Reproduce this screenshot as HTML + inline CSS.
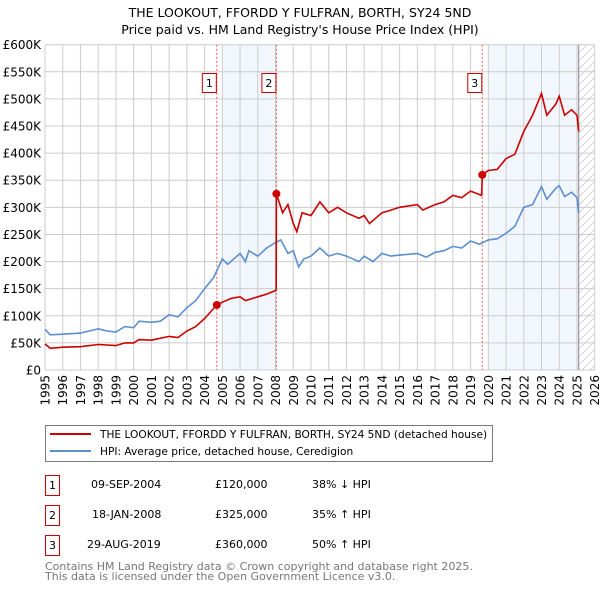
<!DOCTYPE html>
<html><head><meta charset="utf-8"><style>
body{margin:0;background:#fff;font-family:"DejaVu Sans","Liberation Sans",sans-serif;}
svg{display:block}
</style></head><body>
<svg id="c" width="600" height="590" xmlns="http://www.w3.org/2000/svg" font-family="DejaVu Sans, Liberation Sans, sans-serif">
<text x="300" y="17" text-anchor="middle" font-size="12.5">THE LOOKOUT, FFORDD Y FULFRAN, BORTH, SY24 5ND</text>
<text x="300" y="34" text-anchor="middle" font-size="12.5">Price paid vs. HM Land Registry's House Price Index (HPI)</text>
<g id="plot"></g>
<g>
<rect x="45.5" y="425.5" width="447" height="36" fill="#fff" stroke="#777"/>
<line x1="50" y1="434" x2="91" y2="434" stroke="#cc0000" stroke-width="2"/>
<text x="100" y="438" font-size="10.6">THE LOOKOUT, FFORDD Y FULFRAN, BORTH, SY24 5ND (detached house)</text>
<line x1="50" y1="451" x2="91" y2="451" stroke="#5b8fd0" stroke-width="2"/>
<text x="100" y="455" font-size="10.6">HPI: Average price, detached house, Ceredigion</text>
</g>
<g font-size="11">
<rect x="45.5" y="475.5" width="14" height="20" fill="#fff" stroke="#cc0000"/><text x="52.5" y="489" text-anchor="middle">1</text>
<text x="91" y="488">09-SEP-2004</text><text x="215" y="488">£120,000</text><text x="312" y="488">38% ↓ HPI</text>
<rect x="45.5" y="505.5" width="14" height="20" fill="#fff" stroke="#cc0000"/><text x="52.5" y="519" text-anchor="middle">2</text>
<text x="92" y="518">18-JAN-2008</text><text x="215" y="518">£325,000</text><text x="312" y="518">35% ↑ HPI</text>
<rect x="45.5" y="535.5" width="14" height="20" fill="#fff" stroke="#cc0000"/><text x="52.5" y="549" text-anchor="middle">3</text>
<text x="87" y="548">29-AUG-2019</text><text x="215" y="548">£360,000</text><text x="312" y="548">50% ↑ HPI</text>
</g>
<text x="45" y="570" font-size="11" fill="#777">Contains HM Land Registry data © Crown copyright and database right 2025.</text>
<text x="45" y="580" font-size="11" fill="#777">This data is licensed under the Open Government Licence v3.0.</text>
</svg>
<script>
const yTicks=[0,50,100,150,200,250,300,350,400,450,500,550,600];
const yTickLabels=["£0","£50K","£100K","£150K","£200K","£250K","£300K","£350K","£400K","£450K","£500K","£550K","£600K"];
const xYears=[1995,1996,1997,1998,1999,2000,2001,2002,2003,2004,2005,2006,2007,2008,2009,2010,2011,2012,2013,2014,2015,2016,2017,2018,2019,2020,2021,2022,2023,2024,2025,2026];
const hpiT=[1995,1995.3,1996,1997,1998,1998.5,1999,1999.5,2000,2000.3,2001,2001.5,2002,2002.5,2003,2003.5,2004,2004.5,2005,2005.3,2006,2006.3,2006.5,2007,2007.5,2008,2008.3,2008.7,2009,2009.3,2009.6,2010,2010.5,2011,2011.5,2012,2012.7,2013,2013.5,2014,2014.5,2015,2016,2016.5,2017,2017.5,2018,2018.5,2019,2019.5,2020,2020.5,2021,2021.5,2022,2022.5,2023,2023.3,2023.8,2024,2024.3,2024.7,2025,2025.1];
const hpiV=[75,65,66,68,76,72,70,80,78,90,88,90,102,98,115,128,150,170,205,195,215,200,220,210,225,235,240,215,220,190,205,210,225,210,215,210,200,210,200,215,210,212,215,208,217,220,228,225,238,232,240,242,252,265,300,305,338,315,335,340,320,328,318,290];
const propT=[1995,1995.3,1996,1997,1998,1999,1999.5,2000,2000.3,2001,2002,2002.5,2003,2003.5,2004,2004.69,2005,2005.5,2006,2006.3,2007,2007.5,2008.04,2008.05,2008.4,2008.7,2009,2009.2,2009.5,2010,2010.5,2011,2011.5,2012,2012.7,2013,2013.3,2014,2014.5,2015,2016,2016.3,2017,2017.5,2018,2018.5,2019,2019.62,2019.66,2020,2020.5,2021,2021.5,2022,2022.5,2023,2023.3,2023.8,2024,2024.3,2024.7,2025,2025.1];
const propV=[48,40,42,43,47,45,50,50,56,55,62,60,72,80,95,120,125,132,135,128,135,140,147,325,290,305,270,255,290,285,310,290,300,290,280,285,270,290,295,300,305,295,305,310,322,318,330,322,360,368,370,390,398,440,470,510,470,490,505,470,480,470,440];
const saleT=[2004.69,2008.05,2019.66];
const saleV=[120,325,360];
const saleLabels=["1","2","3"];
const X0=45,X1=594.7,Y0=370,Y1=44.7;
const x=t=>X0+(t-1995)/(2026-1995)*(X1-X0);
const y=v=>Y0-v/600*(Y0-Y1);
const NS="http://www.w3.org/2000/svg";
const g=document.getElementById('plot');
function mk(tag,at,parent){const e=document.createElementNS(NS,tag);for(const k in at)e.setAttribute(k,at[k]);(parent||g).appendChild(e);return e;}
let e;
e=mk('rect',{x:x(2005),y:Y1,width:x(2008.05)-x(2005),height:Y0-Y1,fill:'#f2f6fd'});


e=mk('rect',{x:x(2020),y:Y1,width:x(2025.1)-x(2020),height:Y0-Y1,fill:'#f2f6fd'});


const defs=mk('defs',{});
const pat=mk('pattern',{id:'h',width:8,height:8,patternUnits:'userSpaceOnUse'},defs);
mk('path',{d:'M0,8 L8,0',stroke:'#ccc','stroke-width':0.8},pat);
e=mk('rect',{x:x(2025.1),y:Y1,width:X1-x(2025.1),height:Y0-Y1,fill:'url(#h)'});


yTicks.forEach((v,i)=>{
 e=mk('line',{x1:X0,x2:X1,y1:y(v),y2:y(v),stroke:'#ccc','stroke-width':1});
 
 
 e=mk('text',{x:X0-4,y:y(v)+4.5,'text-anchor':'end','font-size':12});
 e.textContent=yTickLabels[i];
 
 
});
xYears.forEach(t=>{
 e=mk('line',{x1:x(t),x2:x(t),y1:Y1,y2:Y0,stroke:'#ccc','stroke-width':1});
 
 
 e=mk('text',{x:0,y:0,'text-anchor':'end','font-size':12,transform:`translate(${x(t)+4.5},${Y0+5}) rotate(-90)`});
 e.textContent=t;
 
 
});
e=mk('line',{x1:x(2025.1),x2:x(2025.1),y1:Y1,y2:Y0,stroke:'#888','stroke-width':1});


saleT.forEach((t,i)=>{
 e=mk('line',{x1:x(t),x2:x(t),y1:Y1,y2:Y0,stroke:'#e55','stroke-width':1,'stroke-dasharray':'2,2'});
 
 
 e=mk('rect',{x:x(t)-14.5,y:73.5,width:14,height:19,fill:'#fff',stroke:'#cc0000'});
 
 
 e=mk('text',{x:x(t)-7.5,y:87,'text-anchor':'middle','font-size':11});
 e.textContent=saleLabels[i];
 
 
});
const pts=(T,V)=>T.map((t,i)=>x(t).toFixed(1)+','+y(V[i]).toFixed(1)).join(' ');
e=mk('polyline',{points:pts(hpiT,hpiV),fill:'none',stroke:'#5b8fd0','stroke-width':1.6});


e=mk('polyline',{points:pts(propT,propV),fill:'none',stroke:'#cc0000','stroke-width':1.6});


saleT.forEach((t,i)=>{
 e=mk('circle',{cx:x(t),cy:y(saleV[i]),r:4,fill:'#cc0000'});
 
 
});
</script>
</body></html>
